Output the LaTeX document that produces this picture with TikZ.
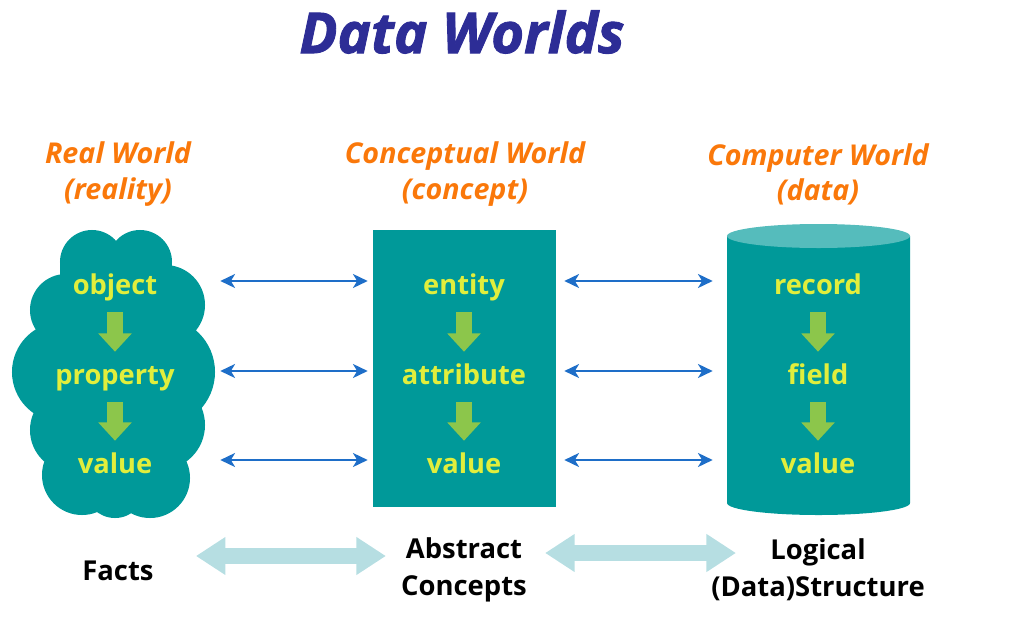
\documentclass[tikz,border=0pt]{standalone}
\usepackage{fontspec}
\setmainfont{Open Sans}
\newfontfamily\titlefont{Open Sans}[BoldItalicFeatures={FakeBold=1.6}]
\usepackage{xcolor}
\usetikzlibrary{arrows.meta, shapes.geometric, positioning}
\definecolor{worldteal}{RGB}{0,153,153}
\definecolor{worldtop}{RGB}{85,188,188}
\definecolor{wordyellow}{RGB}{225,238,60}
\definecolor{stepgreen}{RGB}{140,198,75}
\definecolor{linkblue}{RGB}{30,110,200}
\definecolor{headorange}{RGB}{250,120,10}
\definecolor{titleblue}{RGB}{45,45,150}
\definecolor{bandcyan}{RGB}{182,222,226}

\tikzset{
    word/.style={text=wordyellow, font=\bfseries\fontsize{19.4}{22}\selectfont,
        inner sep=0pt, minimum height=1.25cm, text height=1.24em, text depth=0.2em},
    worldhead/.style={text=headorange, font=\bfseries\itshape\fontsize{20.4}{25}\selectfont, align=center},
    caption/.style={font=\bfseries\fontsize{19.5}{26.3}\selectfont, align=center, inner sep=0pt},
    steparrow/.style={stepgreen, line width=11.4pt, -{Triangle[width=23pt, length=13pt]}},
    linkarrow/.style={linkblue, line width=1.4pt, transform canvas={yshift=0.15cm},
        {Stealth[length=10.5pt, width=10pt, inset=3pt]}-{Stealth[length=10.5pt, width=10pt, inset=3pt]}},
    bandarrow/.style={bandcyan, line width=11.4pt, {Triangle[width=25.6pt, length=21pt]}-{Triangle[width=25.6pt, length=21pt]}}
}

\begin{document}
\begin{tikzpicture}[x=0.025cm, y=-0.025cm]
    \useasboundingbox (0,0) rectangle (1011,618);

    % title
    \node[text=titleblue, font=\titlefont\bfseries\itshape\fontsize{40}{40}\selectfont] (title) at (462,32) {Data Worlds};

    % world headings
    \node[worldhead] (realh) at (118,174) {Real World\\(reality)};
    \node[worldhead] (concepth) at (465,174) {Conceptual World\\(concept)};
    \node[worldhead] (comph) at (818,174) {Computer World\\(data)};

    % real world cloud
    \node[inner sep=0pt, minimum width=5cm, minimum height=7.2cm] (cloud) at (115,375) {};
    \fill[worldteal] (92,262) circle (0.8cm) (140,262) circle (0.8cm)
        (66,310) circle (0.9cm) (165,305) circle (1cm)
        (62,372) circle (1.25cm) (160,372) circle (1.375cm)
        (72,430) circle (1.05cm) (160,425) circle (1.125cm)
        (82,475) circle (1cm) (150,478) circle (1cm) (115,488) circle (0.75cm)
        (60,260) rectangle (170,490);

    % conceptual world box
    \node[fill=worldteal, minimum width=4.575cm, minimum height=6.925cm, inner sep=0pt] (concept) at (464.5,368.5) {};

    % computer world cylinder
    \node[inner sep=0pt, minimum width=4.575cm, minimum height=7.275cm] (comp) at (818.5,369.5) {};
    \fill[worldteal] (727,236) -- (727,503) arc[start angle=180, end angle=360, x radius=2.2875cm, y radius=0.3cm]
        -- (910,236) -- cycle;
    \fill[worldtop] (818.5,236) ellipse [x radius=2.2875cm, y radius=0.3cm];

    % words
    \node[word] (obj) at (115,287) {object};
    \node[word] (prop) at (115,377) {property};
    \node[word] (rval) at (115,466) {value};
    \node[word] (ent) at (464,287) {entity};
    \node[word] (attr) at (464,377) {attribute};
    \node[word] (cval) at (464,466) {value};
    \node[word] (rec) at (818,287) {record};
    \node[word] (fld) at (818,377) {field};
    \node[word] (dval) at (818,466) {value};

    \draw[steparrow] (obj) -- (prop);
    \draw[steparrow] (prop) -- (rval);
    \draw[steparrow] (ent) -- (attr);
    \draw[steparrow] (attr) -- (cval);
    \draw[steparrow] (rec) -- (fld);
    \draw[steparrow] (fld) -- (dval);

    % links between worlds
    \foreach \a/\b in {obj/ent, prop/attr, rval/cval}
        \draw[linkarrow, shorten <=0.125cm, shorten >=0.125cm] (cloud.east |- \b) -- (concept.west |- \b);
    \foreach \a/\b in {ent/rec, attr/fld, cval/dval}
        \draw[linkarrow, shorten <=0.2cm, shorten >=0.35cm] (concept.east |- \a) -- (comp.west |- \b);

    % captions
    \node[caption] (facts) at (118,571) {Facts};
    \node[caption] (abstract) at (464,570) {Abstract\\Concepts};
    \node[caption] (logical) at (818,570) {Logical\\(Data)Structure};

    \draw[bandarrow, shorten <=1.05cm, shorten >=0.375cm] ([yshift=0.375cm]facts.east) -- ([yshift=0.35cm]abstract.west);
    \draw[bandarrow, shorten <=0.45cm] ([yshift=0.425cm]abstract.east) -- ([xshift=0.625cm, yshift=0.425cm]logical.west);
\end{tikzpicture}
\end{document}
